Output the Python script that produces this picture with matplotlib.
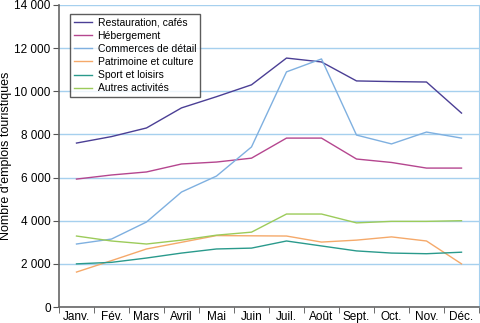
import matplotlib.pyplot as plt
import numpy as np
from matplotlib.ticker import FuncFormatter

months = ["Janv.", "Fév.", "Mars", "Avril", "Mai", "Juin",
          "Juil.", "Août", "Sept.", "Oct.", "Nov.", "Déc."]

restauration = [7600, 7900, 8300, 9230, 9750, 10300, 11540, 11360, 10480, 10450, 10430, 8990]
hebergement = [5930, 6120, 6260, 6630, 6720, 6900, 7830, 7830, 6860, 6700, 6440, 6440]
commerces = [2920, 3150, 3940, 5330, 6070, 7420, 10900, 11500, 7970, 7560, 8110, 7830]
patrimoine = [1620, 2150, 2690, 3000, 3310, 3300, 3290, 3010, 3100, 3250, 3060, 2000]
sport = [2000, 2070, 2270, 2500, 2690, 2730, 3060, 2830, 2600, 2500, 2470, 2540]
autres = [3290, 3060, 2920, 3100, 3330, 3470, 4310, 4310, 3900, 3970, 3970, 4000]

series = [
    ("Restauration, cafés", restauration, "#4b3f95"),
    ("Hébergement", hebergement, "#b5468f"),
    ("Commerces de détail", commerces, "#7fb0e0"),
    ("Patrimoine et culture", patrimoine, "#f5a96a"),
    ("Sport et loisirs", sport, "#2a9a8c"),
    ("Autres activités", autres, "#9ccb5a"),
]

plt.rcParams["font.family"] = ["Liberation Sans", "DejaVu Sans"]
fs = 8.5

fig = plt.figure(figsize=(4.8, 3.23), dpi=100)
ax = fig.add_axes([59 / 480, 16 / 323, 420 / 480, 302 / 323])

x = np.arange(len(months))
for label, values, color in series:
    ax.plot(x, values, color=color, lw=1.0, label=label)

ax.set_xlim(-0.5, 11.5)
ax.set_ylim(0, 14000)
ax.set_yticks(range(0, 14001, 2000))
ax.yaxis.set_major_formatter(FuncFormatter(lambda v, p: f"{int(v):,}".replace(",", " ")))
ax.grid(axis="y", color="#a6d0ee", lw=1.0)
ax.set_axisbelow(True)

ax.set_xticks(x)
ax.set_xticklabels(months)
ax.set_xticks(np.arange(-0.5, 12, 1), minor=True)
ax.tick_params(axis="x", which="major", length=0, pad=3, labelsize=fs)
ax.tick_params(axis="x", which="minor", length=4, color="#555555", direction="out")
ax.tick_params(axis="y", length=4, color="#555555", labelsize=fs, pad=2)

ax.set_ylabel("Nombre d'emplois touristiques", fontsize=9)
ax.yaxis.set_label_coords(-0.112, 0.5)

for s in ["left", "bottom"]:
    ax.spines[s].set_color("#666666")
    ax.spines[s].set_linewidth(1.2)
ax.spines["right"].set_color("#a6d0ee")
ax.spines["top"].set_visible(False)

leg = ax.legend(loc="upper left", bbox_to_anchor=(0.026, 0.97), fontsize=fs - 1,
                frameon=True, fancybox=False, edgecolor="#333333",
                handlelength=1.8, handletextpad=0.5, labelspacing=0.3,
                borderpad=0.35, borderaxespad=0)
leg.get_frame().set_linewidth(1.0)

fig.savefig("out.png", dpi=100)
